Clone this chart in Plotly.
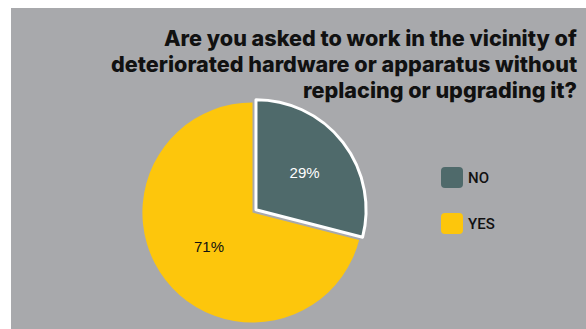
import plotly.graph_objects as go

# Survey answers
labels = ["NO", "YES"]
values = [29, 71]
colors = ["#4f6a6b", "#fdc60c"]
text_colors = ["#ffffff", "#111111"]
title_lines = [
    "Are you asked to work in the vicinity of",
    "deteriorated hardware or apparatus without",
    "replacing or upgrading it?",
]

W, H = 586, 329
BG_GRAY = "#a8a9ac"


def px_x(x):
    return x / W


def px_y(y):
    return 1 - y / H


def rounded_rect(x0, y0, x1, y1, r):
    """SVG path for a rounded rectangle given in pixel coordinates (y down)."""
    X = px_x
    Y = px_y
    rx, ry = r / W, r / H
    return (
        f"M{X(x0) + rx},{Y(y0)} L{X(x1) - rx},{Y(y0)} "
        f"Q{X(x1)},{Y(y0)} {X(x1)},{Y(y0) - ry} "
        f"L{X(x1)},{Y(y1) + ry} Q{X(x1)},{Y(y1)} {X(x1) - rx},{Y(y1)} "
        f"L{X(x0) + rx},{Y(y1)} Q{X(x0)},{Y(y1)} {X(x0)},{Y(y1) + ry} "
        f"L{X(x0)},{Y(y0) - ry} Q{X(x0)},{Y(y0)} {X(x0) + rx},{Y(y0)} Z"
    )


fig = go.Figure()

fig.add_trace(
    go.Pie(
        labels=labels,
        values=values,
        sort=False,
        direction="clockwise",
        rotation=0,
        pull=[0.04, 0],
        marker=dict(colors=colors, line=dict(color="white", width=[3, 0])),
        textinfo="percent",
        textposition="inside",
        insidetextorientation="horizontal",
        insidetextfont=dict(family="Liberation Sans, Arial, sans-serif", size=15, color=text_colors),
        domain=dict(x=[px_x(138), px_x(367)], y=[px_y(327), px_y(98)]),
        showlegend=False,
        hoverinfo="label+percent",
    )
)

shapes = [
    dict(
        type="rect", xref="paper", yref="paper",
        x0=px_x(11), x1=1, y0=0, y1=px_y(8),
        fillcolor=BG_GRAY, line=dict(width=0), layer="below",
    )
]

annotations = []
legend_top = [167, 213]
for lab, col, top in zip(labels, colors, legend_top):
    shapes.append(
        dict(
            type="path", xref="paper", yref="paper",
            path=rounded_rect(441, top, 463, top + 21, 4),
            fillcolor=col, line=dict(width=0),
        )
    )
    annotations.append(
        dict(
            text=lab, xref="paper", yref="paper",
            x=px_x(466), y=px_y(top + 11), xanchor="left", yanchor="middle",
            showarrow=False,
            font=dict(family="Roboto, Liberation Sans, sans-serif", size=15, color="#111111", weight=500),
        )
    )

# Chart title, right-aligned in the upper right corner, one line per annotation
title_centers = [37.5, 63.8, 90.1]
for line, yc in zip(title_lines, title_centers):
    annotations.append(
        dict(
            text=line,
            xref="paper", yref="paper",
            x=px_x(579), xanchor="right",
            y=px_y(yc), yanchor="middle",
            align="right", showarrow=False,
            font=dict(family="Inter, Roboto, sans-serif", size=21.6, color="#111111", weight=800),
        )
    )

fig.update_layout(
    width=W,
    height=H,
    autosize=False,
    margin=dict(l=0, r=0, t=0, b=0),
    paper_bgcolor="white",
    shapes=shapes,
    annotations=annotations,
)

fig.write_html("out.html")
